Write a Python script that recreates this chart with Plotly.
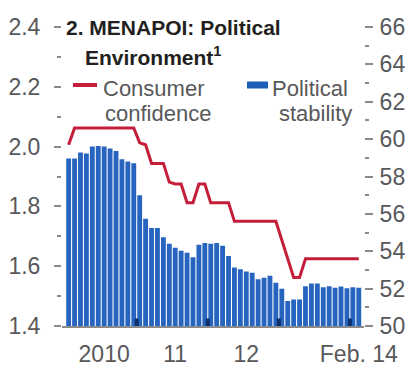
import plotly.graph_objects as go

# ---------------- data ----------------
months = [f"{y}-{m:02d}" for y in (2010, 2011, 2012, 2013) for m in range(1, 13)] + ["2014-01", "2014-02"]

political_stability = [
    1.960, 1.960, 1.980, 1.977, 2.000, 2.002, 2.000, 1.994, 1.985, 1.958, 1.950, 1.944,
    1.837, 1.759, 1.728, 1.728, 1.697, 1.675, 1.662, 1.652, 1.645, 1.630, 1.672, 1.678,
    1.675, 1.678, 1.668, 1.634, 1.596, 1.590, 1.582, 1.578, 1.556, 1.561, 1.568, 1.545,
    1.525, 1.484, 1.489, 1.489, 1.533, 1.542, 1.542, 1.530, 1.533, 1.528, 1.532, 1.526,
    1.530, 1.528,
]

consumer_confidence = [
    59.7, 60.6, 60.6, 60.6, 60.6, 60.6, 60.6, 60.6, 60.6, 60.6, 60.6, 60.6,
    59.8, 59.7, 58.7, 58.7, 58.7, 57.7, 57.6, 57.6, 56.6, 56.6, 57.6, 57.6,
    56.6, 56.6, 56.6, 56.6, 55.6, 55.6, 55.6, 55.6, 55.6, 55.6, 55.6, 55.6,
    54.6, 53.6, 52.6, 52.6, 53.6, 53.6, 53.6, 53.6, 53.6, 53.6, 53.6, 53.6,
    53.6, 53.6,
]

x_tick_labels = ["2010", "11", "12", "Feb. 14"]
x_tick_months = ["2010-07", "2011-07", "2012-07", "2014-02"]
year_start_months = ["2011-01", "2012-01", "2013-01", "2014-01"]

left_ticks = [1.4, 1.6, 1.8, 2.0, 2.2, 2.4]
right_ticks = [50, 52, 54, 56, 58, 60, 62, 64, 66]

# ---------------- figure ----------------
x = list(range(len(months)))
FONT = "Liberation Sans, Arial, sans-serif"
GREY = "#58585a"
TICK = "#8a8a8c"

fig = go.Figure()
fig.add_trace(go.Bar(
    x=x, y=political_stability,
    marker=dict(color="#2764bf", line=dict(width=0)),
    yaxis="y", name="Political stability", showlegend=False,
))
fig.add_trace(go.Scatter(
    x=x, y=consumer_confidence, mode="lines",
    line=dict(color="#c41e3a", width=3),
    yaxis="y2", name="Consumer confidence", showlegend=False,
))

fig.update_layout(
    width=412, height=369,
    margin=dict(l=62, r=48, t=27, b=43),
    paper_bgcolor="white", plot_bgcolor="white",
    bargap=0.18,
    xaxis=dict(
        range=[-1.12, 49.88], automargin=False,
        tickvals=[months.index(m) for m in x_tick_months],
        ticktext=x_tick_labels,
        ticks="", showgrid=False, zeroline=False,
        showline=True, linecolor=TICK, linewidth=2,
        tickfont=dict(family=FONT, size=23, color=GREY),
        ticklabelstandoff=6,
    ),
    yaxis=dict(
        range=[1.4, 2.4], automargin=False,
        tickvals=left_ticks, tickformat=".1f",
        ticks="outside", ticklen=7, tickwidth=2, tickcolor=TICK,
        showgrid=False, zeroline=False, showline=False,
        tickfont=dict(family=FONT, size=23, color=GREY),
        ticklabelstandoff=9,
        minor=dict(dtick=0.1, ticks="outside", ticklen=4, tickwidth=2, tickcolor=TICK),
    ),
    yaxis2=dict(
        range=[50, 66], overlaying="y", side="right", automargin=False,
        tickvals=right_ticks,
        ticks="outside", ticklen=8, tickwidth=2, tickcolor=TICK,
        showgrid=False, zeroline=False, showline=False,
        tickfont=dict(family=FONT, size=23, color=GREY),
        ticklabelstandoff=2,
        minor=dict(dtick=1, ticks="outside", ticklen=4, tickwidth=2, tickcolor=TICK),
    ),
)

# plot-area pixel helpers (for title / legend placement)
L, R, T, B = 62, 364, 27, 326
def px(xp):
    return (xp - L) / (R - L)
def py(yp):
    return (B - yp) / (B - T)

annots = [
    dict(text="<b>2. MENAPOI: Political</b>", x=px(64), y=py(27), xanchor="left", yanchor="middle",
         font=dict(family=FONT, size=21, color="#231f20")),
    dict(text="<b>Environment<sup>1</sup></b>", x=px(83), y=py(56), xanchor="left", yanchor="middle",
         font=dict(family=FONT, size=21, color="#231f20")),
    dict(text="Consumer", x=px(101), y=py(88), xanchor="left", yanchor="middle",
         font=dict(family=FONT, size=22, color=GREY)),
    dict(text="confidence", x=px(103), y=py(113), xanchor="left", yanchor="middle",
         font=dict(family=FONT, size=22, color=GREY)),
    dict(text="Political", x=px(270), y=py(88), xanchor="left", yanchor="middle",
         font=dict(family=FONT, size=22, color=GREY)),
    dict(text="stability", x=px(277), y=py(113), xanchor="left", yanchor="middle",
         font=dict(family=FONT, size=22, color=GREY)),
]
for a in annots:
    a.update(xref="paper", yref="paper", showarrow=False)
fig.update_layout(annotations=annots)

# legend keys
fig.add_shape(type="line", xref="paper", yref="paper",
              x0=px(73), x1=px(97), y0=py(85), y1=py(85),
              line=dict(color="#c41e3a", width=4))
fig.add_shape(type="rect", xref="paper", yref="paper",
              x0=px(247), x1=px(268), y0=py(88.5), y1=py(81.5),
              fillcolor="#1d5fb8", line=dict(width=0))

# dark year-boundary marks at the foot of the bars
for m in year_start_months:
    xb = months.index(m) - 0.5
    fig.add_shape(type="line", xref="x", yref="paper", x0=xb, x1=xb, y0=0, y1=0.025,
                  line=dict(color="#0e2f6a", width=4), layer="above")

fig.write_html("out.html")
